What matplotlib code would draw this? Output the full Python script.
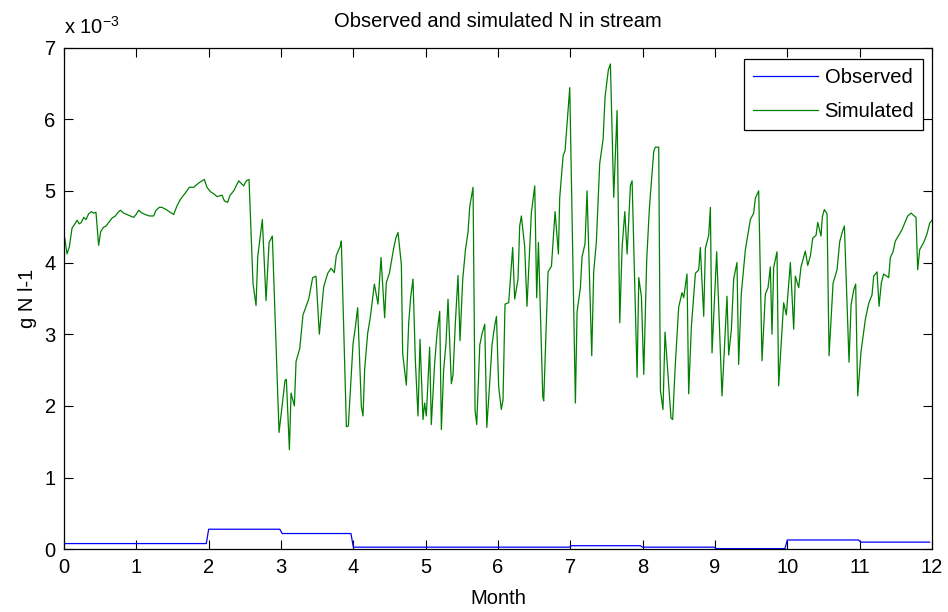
import numpy as np
import matplotlib
matplotlib.use("Agg")
import matplotlib.pyplot as plt

plt.rcParams['font.family'] = ['Liberation Sans', 'DejaVu Sans']

# Observed concentration: one value per month (x 10^-3 g N l-1)
obs_monthly = [0.08, 0.08, 0.28, 0.22, 0.03, 0.03, 0.03, 0.05, 0.03, 0.01, 0.13, 0.10]

# Simulated concentration (x 10^-3 g N l-1) against time in months
sim_month = [
    0.000, 0.009, 0.041, 0.074, 0.111, 0.157, 0.180, 0.212, 0.240, 0.272, 0.304, 0.341,
    0.378, 0.410, 0.442, 0.479, 0.507, 0.544, 0.581, 0.618, 0.664, 0.710, 0.747, 0.779,
    0.825, 0.871, 0.917, 0.963, 0.996, 1.032, 1.078, 1.124, 1.180, 1.240, 1.272, 1.318,
    1.355, 1.410, 1.456, 1.516, 1.562, 1.608, 1.677, 1.733, 1.793, 1.862, 1.940,
    1.977, 2.023, 2.069, 2.115, 2.185, 2.217, 2.263, 2.291, 2.346, 2.415, 2.484, 2.521,
    2.558, 2.613, 2.655, 2.678, 2.742, 2.793, 2.835, 2.880, 2.973, 3.056, 3.074, 3.116,
    3.139, 3.185, 3.208, 3.259, 3.304, 3.383, 3.438, 3.484, 3.530, 3.590, 3.646, 3.692,
    3.737, 3.765, 3.820, 3.834, 3.904, 3.931, 3.996,
    4.028, 4.060, 4.111, 4.134, 4.157, 4.198, 4.235, 4.291, 4.341, 4.383, 4.433, 4.456,
    4.498, 4.558, 4.590, 4.618, 4.664, 4.682, 4.733, 4.765, 4.793, 4.825, 4.857, 4.894,
    4.922, 4.963, 4.986, 5.009, 5.055, 5.078, 5.124, 5.157, 5.194, 5.217, 5.249, 5.281,
    5.309, 5.355, 5.378, 5.410, 5.447, 5.475, 5.512, 5.549, 5.586, 5.609, 5.655, 5.683,
    5.706, 5.748, 5.780, 5.817, 5.845, 5.882, 5.919, 5.956, 5.979,
    6.009, 6.046, 6.069, 6.097, 6.148, 6.203, 6.231, 6.277, 6.300, 6.323, 6.369, 6.401,
    6.461, 6.508, 6.535, 6.559, 6.619, 6.632, 6.692, 6.739, 6.789, 6.835, 6.853, 6.900,
    6.927, 6.992, 7.070, 7.093, 7.139, 7.162, 7.203, 7.231, 7.296, 7.323, 7.360, 7.406,
    7.453, 7.480, 7.526, 7.554, 7.600, 7.646, 7.683, 7.716, 7.753, 7.785, 7.831, 7.854,
    7.923, 7.946, 7.983, 8.015,
    8.056, 8.093, 8.153, 8.175, 8.222, 8.245, 8.281, 8.309, 8.351, 8.392, 8.415, 8.452,
    8.498, 8.544, 8.567, 8.613, 8.636, 8.673, 8.729, 8.775, 8.797, 8.844, 8.867, 8.913,
    8.936, 8.959, 9.023, 9.097, 9.166, 9.189, 9.226, 9.258, 9.304, 9.327, 9.364, 9.420,
    9.489, 9.535, 9.558, 9.604, 9.650, 9.696, 9.733, 9.765, 9.788, 9.811, 9.857, 9.880,
    9.949, 9.986,
    10.042, 10.088, 10.111, 10.157, 10.189, 10.249, 10.282, 10.318, 10.351, 10.397, 10.420,
    10.466, 10.484, 10.512, 10.549, 10.577, 10.632, 10.687, 10.724, 10.761, 10.789, 10.853,
    10.881, 10.918, 10.945, 10.973, 11.019, 11.079, 11.125, 11.171, 11.194, 11.240, 11.268,
    11.300, 11.332, 11.401, 11.424, 11.461, 11.493, 11.539, 11.586, 11.618, 11.664, 11.710,
    11.779, 11.802, 11.830, 11.885, 11.931, 11.968, 12.000,
]
sim_value = [
    4.28, 4.35, 4.12, 4.22, 4.48, 4.55, 4.59, 4.54, 4.56, 4.63, 4.60, 4.68,
    4.71, 4.69, 4.70, 4.24, 4.43, 4.49, 4.51, 4.56, 4.62, 4.65, 4.70, 4.73,
    4.69, 4.67, 4.65, 4.63, 4.67, 4.73, 4.69, 4.67, 4.65, 4.65, 4.73, 4.77,
    4.77, 4.74, 4.71, 4.67, 4.79, 4.88, 4.97, 5.05, 5.05, 5.11, 5.16,
    5.05, 4.99, 4.96, 4.92, 4.94, 4.86, 4.84, 4.93, 5.00, 5.14, 5.07, 5.14,
    5.16, 3.71, 3.40, 4.08, 4.60, 3.47, 4.28, 4.37, 1.63, 2.36, 2.37, 1.39,
    2.18, 2.00, 2.62, 2.80, 3.27, 3.49, 3.79, 3.81, 3.00, 3.66, 3.85, 3.92,
    3.86, 4.10, 4.23, 4.30, 1.71, 1.72, 2.87,
    3.10, 3.37, 1.99, 1.86, 2.52, 3.01, 3.24, 3.70, 3.42, 4.07, 3.23, 3.72,
    3.85, 4.20, 4.35, 4.42, 3.97, 2.73, 2.29, 3.15, 3.52, 3.77, 2.64, 1.86,
    2.93, 1.81, 2.04, 1.86, 2.82, 1.74, 2.59, 3.01, 3.32, 1.67, 2.51, 2.87,
    3.49, 2.31, 2.43, 3.15, 3.82, 2.91, 3.76, 4.17, 4.43, 4.78, 5.05, 1.94,
    1.74, 2.85, 3.01, 3.14, 1.70, 2.27, 2.87, 3.13, 3.25,
    2.27, 1.95, 2.08, 3.42, 3.44, 4.21, 3.49, 3.77, 4.51, 4.65, 4.22, 3.39,
    4.69, 5.07, 3.51, 4.28, 2.13, 2.07, 3.87, 3.95, 4.71, 4.12, 4.90, 5.49,
    5.56, 6.44, 2.04, 3.31, 3.65, 4.08, 4.26, 5.00, 2.70, 3.87, 4.29, 5.38,
    5.72, 6.31, 6.69, 6.77, 4.91, 6.12, 3.16, 4.22, 4.71, 4.12, 5.08, 5.14,
    2.40, 3.79, 3.52, 2.44,
    4.04, 4.76, 5.55, 5.61, 5.61, 2.22, 1.95, 3.03, 2.43, 1.83, 1.81, 2.59,
    3.38, 3.58, 3.51, 3.84, 2.17, 3.10, 3.85, 3.90, 4.21, 3.25, 4.20, 4.38,
    4.77, 2.74, 4.15, 2.14, 3.53, 2.71, 3.06, 3.77, 4.00, 2.58, 3.57, 4.18,
    4.60, 4.69, 4.90, 5.00, 2.63, 3.56, 3.65, 3.94, 3.00, 3.93, 4.15, 2.28,
    3.44, 3.27,
    4.00, 3.07, 3.81, 3.65, 3.94, 4.16, 3.96, 4.09, 4.34, 4.38, 4.56,
    4.37, 4.64, 4.74, 4.68, 2.70, 3.71, 3.90, 4.29, 4.43, 4.51, 2.61,
    3.41, 3.62, 3.70, 2.14, 2.76, 3.21, 3.43, 3.55, 3.81, 3.87, 3.39,
    3.72, 3.84, 3.79, 4.07, 4.15, 4.30, 4.38, 4.46, 4.54, 4.65, 4.69,
    4.63, 3.90, 4.18, 4.28, 4.40, 4.55, 4.59,
]

month_ticks = list(range(0, 13))
value_ticks = list(range(0, 8))

# Daily time axis for the monthly observations
days = np.arange(0, 366)
obs_x = days / 30.5
obs_y = np.array(obs_monthly)[np.minimum((days / 30.5).astype(int), 11)]

fig = plt.figure(figsize=(9.48, 6.12), dpi=100)
ax = fig.add_axes([64 / 948, (612 - 549.3) / 612, 868 / 948, 501.8 / 612])

ax.plot(obs_x, obs_y, color='#0000ff', lw=0.9, label='Observed')
ax.plot(sim_month, sim_value, color='#008000', lw=0.9, label='Simulated')

ax.set_xlim(0, 12)
ax.set_ylim(0, 7)
ax.set_xticks(month_ticks)
ax.set_yticks(value_ticks)
ax.tick_params(direction='in', top=True, right=True, length=6.5, width=0.8,
               labelsize=14.5, pad=6)
for s in ax.spines.values():
    s.set_linewidth(0.9)

ax.set_xlabel('Month', fontsize=14.5, labelpad=9)
ax.set_ylabel('g N l-1', fontsize=14.5, labelpad=5)
ax.set_title('Observed and simulated N in stream', fontsize=14.5, pad=15)
ax.text(0, 1.02, r'x 10$^{\mathregular{-3}}$', transform=ax.transAxes,
        ha='left', va='bottom', fontsize=14.5)

leg = ax.legend(loc='upper right', bbox_to_anchor=(0.99, 0.977), fontsize=14.5,
                fancybox=False, edgecolor='black', framealpha=1,
                handlelength=3.2, handletextpad=0.35, labelspacing=0.75,
                borderpad=0.45, borderaxespad=0)
leg.get_frame().set_linewidth(0.9)

fig.savefig('out.png', dpi=100)
